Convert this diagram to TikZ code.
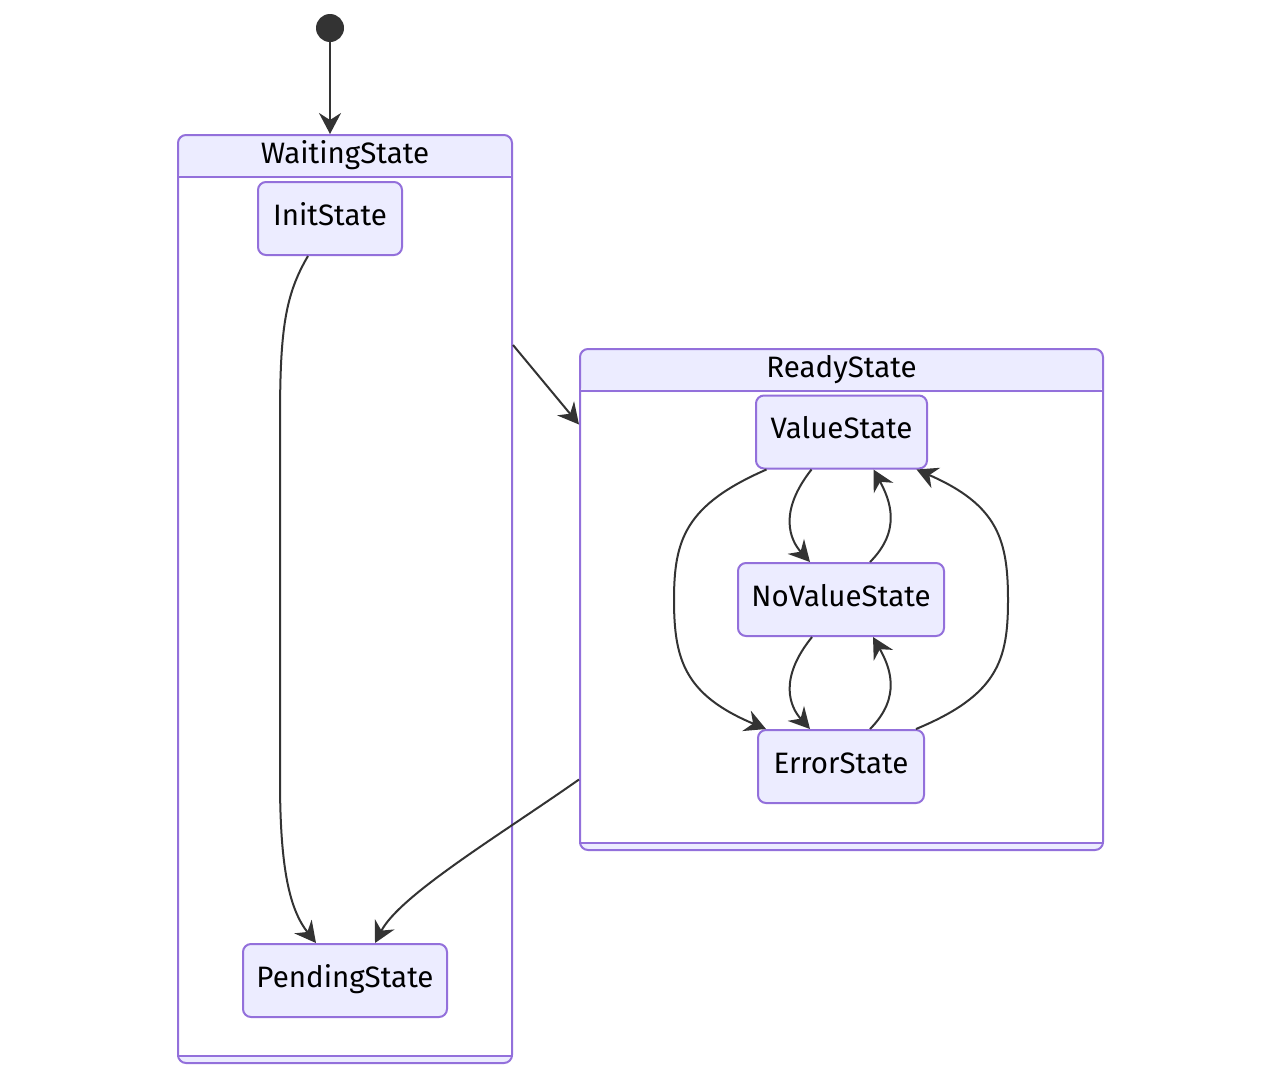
\documentclass[tikz,border=0pt]{standalone}
\usepackage{fontspec}
\setmainfont{Fira Sans}
\usetikzlibrary{arrows.meta}
\definecolor{lav}{HTML}{ECECFF}
\definecolor{bord}{HTML}{9370DB}
\definecolor{edgec}{HTML}{333333}
\begin{document}
\begin{tikzpicture}[x=1pt,y=-1pt,
  lbl/.style={font=\fontsize{29.5}{34}\selectfont, text=black},
  state/.style={lbl, draw=bord, fill=lav, line width=2pt, rounded corners=8pt, minimum height=73pt, inner sep=0pt, text height=21pt, text depth=8pt},
  grp/.style={draw=bord, fill=white, line width=2pt, rounded corners=8pt, inner sep=0pt,
    path picture={\fill[lav] (path picture bounding box.north west) rectangle ([yshift=-43pt]path picture bounding box.north east);
                  \fill[lav] (path picture bounding box.south west) rectangle ([yshift=8pt]path picture bounding box.south east);}},
  sep/.style={draw=bord, line width=2pt},
  tr/.style={draw=edgec, line width=2pt, -{Stealth[length=21pt,width=22pt,inset=7pt]}}]
\useasboundingbox (0,0) rectangle (1281,1079);
% groups
\node[grp, minimum width=334pt, minimum height=928pt] (ws) at (345,599) {};
\draw[sep] ([yshift=-43pt]ws.north west) -- ([yshift=-43pt]ws.north east);
\draw[sep] ([yshift=8pt]ws.south west) -- ([yshift=8pt]ws.south east);
\node[lbl, inner sep=0pt, anchor=base] (wst) at (345,163) {WaitingState};
\node[grp, minimum width=523pt, minimum height=501pt] (rs) at (841.5,599.5) {};
\draw[sep] ([yshift=-43pt]rs.north west) -- ([yshift=-43pt]rs.north east);
\draw[sep] ([yshift=8pt]rs.south west) -- ([yshift=8pt]rs.south east);
\node[lbl, inner sep=0pt, anchor=base] (rst) at (841.5,377) {ReadyState};
% start
\node[circle, fill=edgec, minimum size=28pt, inner sep=0pt] (start) at (330,28) {};
% states
\node[state, minimum width=144pt] (init) at (330,218.5) {InitState};
\node[state, minimum width=204pt] (pend) at (345,980.5) {PendingState};
\node[state, minimum width=171pt] (val) at (841.5,432) {ValueState};
\node[state, minimum width=206pt] (noval) at (841,599.5) {NoValueState};
\node[state, minimum width=166pt] (err) at (841,766.5) {ErrorState};
% edges
\draw[tr] (start) -- (start |- ws.north);
\draw[tr] ([xshift=-22pt]init.south) .. controls (285,295) and (280,330) .. (280,420) -- (280,780) .. controls (280,870) and (290,910) .. ([xshift=-29pt]pend.north);
\draw[tr] ([yshift=254pt]ws.east) -- ([yshift=175pt]rs.west);
\draw[tr] ([yshift=-180pt]rs.west) .. controls (500,835) and (400,895) .. ([xshift=30pt]pend.north);
\draw[tr] ([xshift=-75pt]val.south) .. controls (685,505) and (674,540) .. (674,600) .. controls (674,660) and (685,695) .. ([xshift=-75pt]err.north);
\draw[tr] ([xshift=-30pt]val.south) .. controls (778,512) and (790,540) .. ([xshift=-31pt]noval.north);
\draw[tr] ([xshift=29pt]noval.north) .. controls (902,530) and (890,500) .. ([xshift=32pt]val.south);
\draw[tr] ([xshift=-29pt]noval.south) .. controls (778,679) and (790,707) .. ([xshift=-31pt]err.north);
\draw[tr] ([xshift=29pt]err.north) .. controls (902,697) and (890,667) .. ([xshift=32pt]noval.south);
\draw[tr] ([xshift=75pt]err.north) .. controls (998,695) and (1008,660) .. (1008,600) .. controls (1008,540) and (998,505) .. ([xshift=75pt]val.south);
\end{tikzpicture}
\end{document}
